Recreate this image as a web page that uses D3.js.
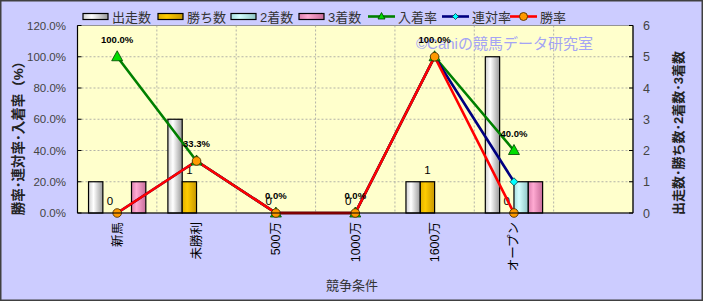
<!DOCTYPE html>
<html><head><meta charset="utf-8">
<script src="https://cdn.jsdelivr.net/npm/d3@7"></script>
<style>
html,body{margin:0;padding:0;background:#fff;}
svg{display:block;}
text{font-family:"Liberation Sans","Noto Sans CJK JP",Arial,sans-serif;}
</style></head>
<body><svg id="c" width="703" height="301"></svg>
<script>
// ---- data ----
const categories = ["新馬","未勝利","500万","1000万","1600万","オープン",""];
const barSeries = ["出走数","勝ち数","2着数","3着数"];
const starts   = [1,3,0,0,1,5];
const wins     = [0,1,0,0,1,0];
const seconds  = [0,0,0,0,0,1];
const thirds   = [1,0,0,0,0,1];
const lineSeries = ["入着率","連対率","勝率"];
const placeRate = [100,33.3,0,0,100,40];
const quinRate  = [0,33.3,0,0,100,20];
const winRate   = [0,33.3,0,0,100,0];
const leftTicks = [0,20,40,60,80,100,120];
const rightTicks = [0,1,2,3,4,5,6];
const barValues = [starts,wins,seconds,thirds];
const lineValues = [placeRate,quinRate,winRate];

// ---- styling ----
const W=703,H=301;
const plot={l:77.5,r:633,t:25.5,b:213};
const svg=d3.select("#c");
const defs=svg.append("defs");
const grads=[
  ["g0",["#cfcfcf","#ffffff","#9a9a9a"]],
  ["g1",["#e0b000","#ffcc00","#c89800"]],
  ["g2",["#a8dede","#d4ffff","#8ec4c4"]],
  ["g3",["#dc7fae","#ffaad2","#c86c9a"]]
];
grads.forEach(([id,c])=>{
  const g=defs.append("linearGradient").attr("id",id).attr("x1","0").attr("x2","1").attr("y1","0").attr("y2","0");
  g.append("stop").attr("offset","0").attr("stop-color",c[0]);
  g.append("stop").attr("offset","0.35").attr("stop-color",c[1]);
  g.append("stop").attr("offset","1").attr("stop-color",c[2]);
});
const lineColors=["#008000","#000080","#ff0000"];
const markerFill=["#00dd00","#00ffff","#ff9900"];

// background
svg.append("rect").attr("x",0.75).attr("y",0.75).attr("width",W-1.5).attr("height",H-1.5)
  .attr("fill","#ccccff").attr("stroke","#404040").attr("stroke-width",1.5);
svg.append("rect").attr("x",plot.l).attr("y",plot.t).attr("width",plot.r-plot.l).attr("height",plot.b-plot.t)
  .attr("fill","#ffffcc").attr("stroke","#808080").attr("stroke-width",0.8);

// scales
const x=d3.scaleBand().domain(categories).range([plot.l,plot.r]).padding(0);
const xs=d3.scaleBand().domain(barSeries).range([0,x.bandwidth()]).paddingInner(0).paddingOuter(0.77);
const yL=d3.scaleLinear().domain([0,120]).range([plot.b,plot.t]);
const yR=d3.scaleLinear().domain([0,6]).range([plot.b,plot.t]);

// grid
const grid=svg.append("g").attr("stroke","#a0a0a0").attr("stroke-width",0.8).attr("stroke-dasharray","2,2");
leftTicks.slice(1,-1).forEach(t=>grid.append("line").attr("x1",plot.l).attr("x2",plot.r).attr("y1",yL(t)).attr("y2",yL(t)));
categories.slice(1).forEach(c=>grid.append("line").attr("x1",x(c)).attr("x2",x(c)).attr("y1",plot.t).attr("y2",plot.b));

// watermark
svg.append("text").attr("x",416).attr("y",49).attr("font-size",15).attr("fill","#a4a4f4")
  .text("©Caniの競馬データ研究室");

// bars
barSeries.forEach((s,i)=>{
  const g=svg.append("g");
  barValues[i].forEach((v,j)=>{
    if(v<=0) return;
    const cx=x(categories[j])+xs(s);
    g.append("rect").attr("x",cx).attr("y",yR(v)).attr("width",xs.bandwidth()).attr("height",yR(0)-yR(v))
      .attr("fill",`url(#g${i})`).attr("stroke","#000").attr("stroke-width",1.2);
  });
});
// win count labels
wins.forEach((v,j)=>{
  svg.append("text").attr("x",x(categories[j])+xs("勝ち数")+xs.bandwidth()/2).attr("y",yR(v)-8)
    .attr("text-anchor","middle").attr("font-size",11.5).attr("fill","#000").text(v);
});

// axes lines
svg.append("line").attr("x1",plot.l).attr("x2",plot.l).attr("y1",plot.t).attr("y2",plot.b).attr("stroke","#000").attr("stroke-width",1.2);
svg.append("line").attr("x1",plot.r).attr("x2",plot.r).attr("y1",plot.t).attr("y2",plot.b).attr("stroke","#000").attr("stroke-width",1.2);

// lines
const cx=j=>x(categories[j])+x.bandwidth()/2;
lineSeries.forEach((s,i)=>{
  const line=d3.line().x((d,j)=>cx(j)).y(d=>yL(d));
  svg.append("path").datum(lineValues[i]).attr("d",line).attr("fill","none")
    .attr("stroke",lineColors[i]).attr("stroke-width",2.6).attr("stroke-linejoin","round");
});
function marker(g,i,px,py){
  if(i===0){
    g.append("path").attr("d",`M${px},${py-6}L${px+5.5},${py+4}L${px-5.5},${py+4}Z`)
      .attr("fill",markerFill[0]).attr("stroke","#004000").attr("stroke-width",0.8);
  }else if(i===1){
    g.append("path").attr("d",`M${px},${py-4}L${px+4},${py}L${px},${py+4}L${px-4},${py}Z`)
      .attr("fill",markerFill[1]).attr("stroke","#004040").attr("stroke-width",0.8);
  }else{
    g.append("circle").attr("cx",px).attr("cy",py).attr("r",4.3)
      .attr("fill",markerFill[2]).attr("stroke","#503000").attr("stroke-width",0.9);
  }
}
lineSeries.forEach((s,i)=>{
  const g=svg.append("g");
  lineValues[i].forEach((v,j)=>marker(g,i,cx(j),yL(v)));
});
// rate labels (入着率)
placeRate.forEach((v,j)=>{
  svg.append("text").attr("x",cx(j)).attr("y",yL(v)-14).attr("text-anchor","middle")
    .attr("font-size",9.5).attr("font-weight","bold").attr("fill","#000").text(v.toFixed(1)+"%");
});
// x axis line
svg.append("line").attr("x1",plot.l).attr("x2",plot.r).attr("y1",plot.b).attr("y2",plot.b).attr("stroke","#000").attr("stroke-width",1.2);

// left ticks
leftTicks.forEach(t=>{
  svg.append("text").attr("x",66).attr("y",yL(t)+4).attr("text-anchor","end").attr("font-size",11.5)
    .attr("fill","#444").text(t.toFixed(1)+"%");
  svg.append("line").attr("x1",plot.l).attr("x2",plot.l+4).attr("y1",yL(t)).attr("y2",yL(t)).attr("stroke","#000");
});
rightTicks.forEach(t=>{
  svg.append("text").attr("x",643).attr("y",yR(t)+4.5).attr("font-size",12.5).attr("fill","#444").text(t);
  svg.append("line").attr("x1",plot.r-4).attr("x2",plot.r).attr("y1",yR(t)).attr("y2",yR(t)).attr("stroke","#000");
});
// category labels
categories.forEach((c,j)=>{
  svg.append("text").attr("transform",`translate(${cx(j)+4.5},${plot.b+9}) rotate(-90)`)
    .attr("text-anchor","end").attr("font-size",12.5).attr("fill","#000").text(c);
});
// titles
svg.append("text").attr("transform",`translate(23,135) rotate(-90)`).attr("text-anchor","middle")
  .attr("font-size",13.5).attr("font-weight","bold").attr("fill","#222").text("勝率･連対率･入着率（%）");
svg.append("text").attr("transform",`translate(683,133) rotate(-90)`).attr("text-anchor","middle")
  .attr("font-size",13).attr("font-weight","bold").attr("fill","#222").text("出走数･勝ち数･2着数･3着数");
svg.append("text").attr("x",352).attr("y",290).attr("text-anchor","middle").attr("font-size",13)
  .attr("fill","#333").text("競争条件");

// legend
const legBars=[83,158,231,299];
barSeries.forEach((s,i)=>{
  svg.append("rect").attr("x",legBars[i]).attr("y",13.5).attr("width",25).attr("height",6)
    .attr("fill",`url(#g${i})`).attr("stroke","#000").attr("stroke-width",1.2);
  svg.append("text").attr("x",legBars[i]+29).attr("y",22).attr("font-size",13).attr("fill","#333").text(s);
});
const legLines=[368,442,510];
lineSeries.forEach((s,i)=>{
  const lx=legLines[i];
  svg.append("line").attr("x1",lx).attr("x2",lx+27).attr("y1",16.5).attr("y2",16.5)
    .attr("stroke",lineColors[i]).attr("stroke-width",2.6);
  const g=svg.append("g");
  if(i===0){
    g.append("path").attr("d",`M${lx+13.5},${12.5}L${lx+17},${19}L${lx+10},${19}Z`)
      .attr("fill",markerFill[0]).attr("stroke","#004000").attr("stroke-width",0.8);
  }else if(i===1){
    g.append("path").attr("d",`M${lx+13.5},${13.5}L${lx+16.5},${16.5}L${lx+13.5},${19.5}L${lx+10.5},${16.5}Z`)
      .attr("fill",markerFill[1]).attr("stroke","#004040").attr("stroke-width",0.8);
  }else{
    g.append("circle").attr("cx",lx+13.5).attr("cy",16.5).attr("r",4).attr("fill",markerFill[2])
      .attr("stroke","#503000").attr("stroke-width",0.9);
  }
  svg.append("text").attr("x",lx+30).attr("y",22).attr("font-size",13).attr("fill","#333").text(s);
});
</script></body></html>
